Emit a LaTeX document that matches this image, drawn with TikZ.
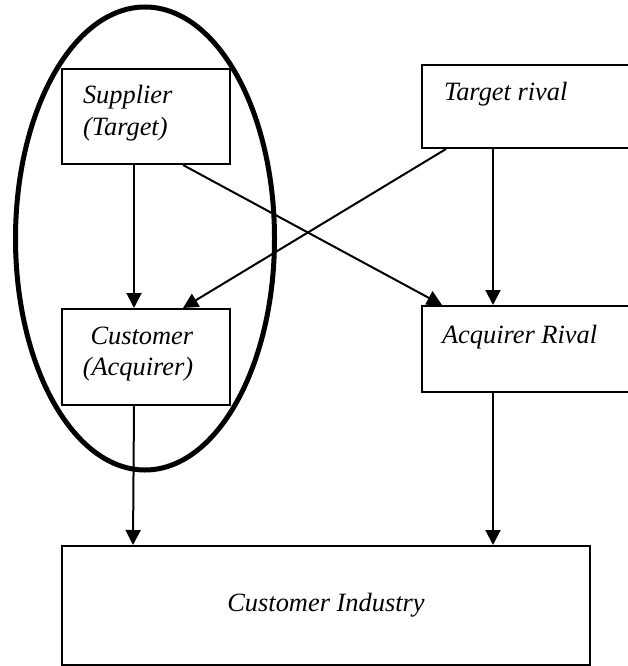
\documentclass[tikz,border=0pt]{standalone}
\usepackage{fontspec}
\setmainfont{Liberation Serif}
\usepackage{tikz}
\usetikzlibrary{arrows.meta}
\newcommand{\boxfont}{\fontsize{26.4pt}{32pt}\selectfont\itshape}
\tikzset{
    box/.style={draw, line width=2pt, anchor=north west, inner sep=0pt, font=\boxfont},
    flow/.style={-{Triangle[width=15pt, length=15pt]}, line width=2pt},
    group/.style={line width=5pt},
}

\begin{document}
\begin{tikzpicture}[x=1pt, y=-1pt]
    \useasboundingbox (0,0) rectangle (628,666);
    \clip (0,0) rectangle (628,666);

    \node[box, inner xsep=21pt, inner ysep=17pt, text height=18pt, text depth=43pt] (sup) at (61,68)
        {\begin{tabular}[t]{@{}p{126pt}@{}}Supplier\\(Target)\end{tabular}};
    \node[box, minimum width=168pt, inner ysep=17pt, text height=18pt, text depth=44pt] (cust) at (61,308)
        {\begin{tabular}[t]{@{}r@{\hspace{16pt}}}Customer\\[-1pt](Acquirer)\end{tabular}};
    \node[box, inner xsep=22pt, inner ysep=18pt, text height=18pt, text depth=29pt] (trv) at (421,64)
        {\begin{tabular}[t]{@{}p{186pt}@{}}Target rival\end{tabular}};
    \node[box, inner xsep=20pt, inner ysep=19pt, text height=18pt, text depth=30pt] (arv) at (421,305)
        {\begin{tabular}[t]{@{}p{190pt}@{}}Acquirer Rival\end{tabular}};
    \node[box, minimum width=528pt, minimum height=119pt] (ind) at (61,545) {Customer Industry};

    % merging pair
    \draw[group] (145,238.5) ellipse [x radius=129.5pt, y radius=231.5pt];

    \draw[flow] ([xshift=-12pt]sup.south) -- ([xshift=-12pt]cust.north);
    \draw[flow] ([xshift=37pt]sup.south) -- ([xshift=21pt]arv.north west);
    \draw[flow] ([xshift=25pt]trv.south west) -- ([xshift=37pt]cust.north);
    \draw[flow] ([xshift=72pt]trv.south west) -- ([xshift=72pt]arv.north west);
    \draw[flow] ([xshift=-12pt]cust.south) -- ([xshift=72pt]ind.north west);
    \draw[flow] ([xshift=72pt]arv.south west) -- ([xshift=432pt]ind.north west);
\end{tikzpicture}
\end{document}
